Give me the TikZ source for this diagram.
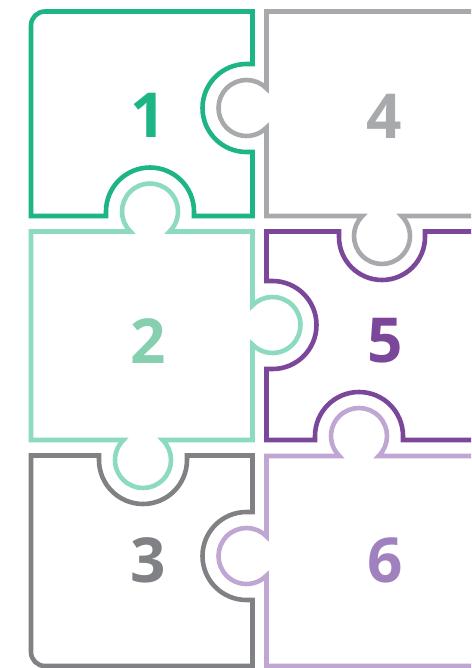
\documentclass[tikz,border=0pt]{standalone}
\usepackage{fontspec}
\newfontfamily\digitfont{Open Sans}
\definecolor{cA}{HTML}{1DB586}
\definecolor{cB}{HTML}{A7A9AC}
\definecolor{cC}{HTML}{8CDBC0}
\definecolor{cCt}{HTML}{86D0B0}
\definecolor{cD}{HTML}{7B479B}
\definecolor{cE}{HTML}{808184}
\definecolor{cF}{HTML}{C0A6D3}
\definecolor{cFt}{HTML}{A080BF}
\tikzset{
  piece/.style={line width=4.6pt, line join=miter, line cap=butt},
  num/.style={font=\digitfont\bfseries\fontsize{62}{62}\selectfont, inner sep=0pt, anchor=center}
}
\begin{document}
\begin{tikzpicture}[x=1pt,y=-1pt]
\useasboundingbox (0,0) rectangle (471,668);
\clip (0,0) rectangle (471,668);
\fill[white] (0,0) rectangle (471,668);
% piece 1
\draw[piece, cA] (31,216) -- (31,25.5) arc[start angle=180, end angle=270, radius=14]
  -- (252.5,11.5) -- (252.5,64) -- (246.5,64)
  arc[start angle=-90, end angle=-270, radius=44]
  -- (252.5,152) -- (252.5,216) -- (194,216) -- (194,211.5)
  arc[start angle=0, end angle=-180, radius=44]
  -- (106,216) -- cycle;
% piece 4
\draw[piece, cB] (500,11.5) -- (266.5,11.5) -- (266.5,88.4)
  arc[start angle=-44.4, end angle=-315.6, radius=28]
  -- (266.5,216) -- (362.4,216)
  arc[start angle=225.6, end angle=-45.6, radius=28]
  -- (500,216);
% piece 2
\draw[piece, cC] (31,231.5) -- (130.4,231.5)
  arc[start angle=134.4, end angle=405.6, radius=28]
  -- (252.5,231.5) -- (252.5,305.4)
  arc[start angle=224.4, end angle=495.6, radius=28]
  -- (252.5,440) -- (162.6,440)
  arc[start angle=-45.6, end angle=225.6, radius=28]
  -- (31,440) -- cycle;
% piece 5
\draw[piece, cD] (500,231.5) -- (425,231.5) -- (425,237)
  arc[start angle=0, end angle=180, radius=43]
  -- (339,231.5) -- (266.5,231.5) -- (266.5,281) -- (272.5,281)
  arc[start angle=-90, end angle=90, radius=44]
  -- (266.5,369) -- (266.5,440) -- (315,440) -- (315,436)
  arc[start angle=180, end angle=360, radius=44]
  -- (403,440) -- (500,440);
% piece 3
\draw[piece, cE] (31,455.5) -- (99,455.5) -- (99,460)
  arc[start angle=180, end angle=0, radius=44]
  -- (187,455.5) -- (252.5,455.5) -- (252.5,512) -- (246.5,512)
  arc[start angle=-90, end angle=-270, radius=44]
  -- (252.5,600) -- (252.5,666) -- (45,666)
  arc[start angle=90, end angle=180, radius=14]
  -- cycle;
% piece 6
\draw[piece, cF] (500,456) -- (378.6,456)
  arc[start angle=45.6, end angle=-225.6, radius=28]
  -- (266.5,456) -- (266.5,536.4)
  arc[start angle=-44.4, end angle=-315.6, radius=28]
  -- (266.5,666) -- (500,666);
% numbers
\node[num, text=cA]  (n1) at (148,115) {1};
\node[num, text=cB]  (n4) at (384,116) {4};
\node[num, text=cCt] (n2) at (148,341) {2};
\node[num, text=cD]  (n5) at (385,341) {5};
\node[num, text=cE]  (n3) at (148,560) {3};
\node[num, text=cFt] (n6) at (385,560) {6};
\end{tikzpicture}
\end{document}
